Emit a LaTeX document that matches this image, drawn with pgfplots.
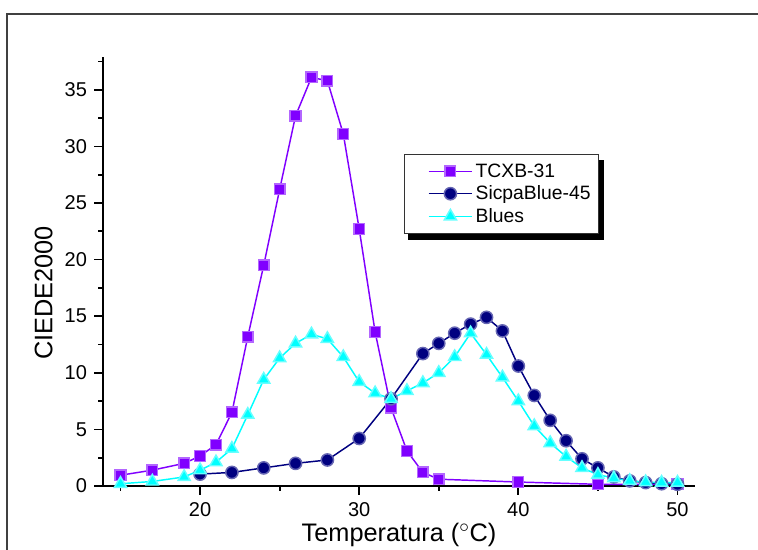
\documentclass[border=0pt]{standalone}
\usepackage{pgfplots}
\pgfplotsset{compat=1.18}
\usepackage{fontspec}
\setmainfont{Liberation Sans}
\definecolor{cpurple}{HTML}{8000FF}
\definecolor{cnavy}{HTML}{000080}
\definecolor{ccyan}{HTML}{00FFFF}
\pgfplotstableread{
x y
15 0.95
17 1.4
19 2.0
20 2.65
21 3.65
22 6.5
23 13.2
24 19.5
25 26.2
26 32.7
27 36.1
28 35.8
29 31.1
30 22.7
31 13.6
32 6.9
33 3.1
34 1.2
35 0.6
40 0.35
45 0.15
50 0.15
}\tcxb
\pgfplotstableread{
x y
20 1.05
22 1.2
24 1.6
26 2.0
28 2.3
30 4.2
32 7.7
34 11.7
35 12.6
36 13.5
37 14.3
38 14.9
39 13.7
40 10.6
41 8.0
42 5.8
43 4.0
44 2.4
45 1.6
46 0.8
47 0.45
48 0.3
49 0.2
50 0.15
}\sicpa
\pgfplotstableread{
x y
15 0.2
17 0.4
19 0.8
20 1.4
21 2.1
22 3.3
23 6.3
24 9.4
25 11.3
26 12.6
27 13.4
28 13.0
29 11.4
30 9.2
31 8.2
32 7.7
33 8.4
34 9.1
35 10.0
36 11.4
37 13.5
38 11.6
39 9.6
40 7.5
41 5.3
42 3.8
43 2.6
44 1.6
45 1.0
46 0.7
47 0.45
48 0.35
49 0.3
50 0.3
}\blues
\begin{document}
\begin{tikzpicture}
\useasboundingbox (0,0) rectangle (568.5pt,412.5pt);
\draw[line width=1.4pt, black!75] (5.25pt,-2pt) -- (5.25pt,402pt) -- (572pt,402pt);
\begin{axis}[
  at={(77.25pt,48pt)}, anchor=south west,
  scale only axis, width=444pt, height=321.75pt,
  xmin=13.9, xmax=51.1, ymin=0, ymax=37.9,
  axis x line*=bottom, axis y line*=left,
  axis line style={-, line width=1.5pt},
  every tick/.style={line width=1.3pt, black},
  tick align=outside,
  major tick length=6.5pt, minor tick length=3.5pt,
  xtick={20,30,40,50}, minor xtick={15,25,35,45},
  ytick={0,5,...,35}, minor ytick={2.5,7.5,...,37.5},
  /pgf/number format/assume math mode=true,
  ticklabel style={font=\fontsize{15}{18}\selectfont},
  xticklabel style={yshift=-2pt},
  yticklabel style={xshift=-2pt},
  xlabel={Temperatura ($^{\circ}$C)},
  ylabel={CIEDE2000},
  label style={font=\fontsize{19}{23}\selectfont},
  xlabel style={at={(axis description cs:0.5,-0.075)}, anchor=north},
  ylabel style={at={(axis description cs:-0.077,0.45)}, anchor=south},
  clip=false,
  legend style={name=leg, at={(axis cs:32.8,29.3)}, anchor=north west,
    draw=black!80, line width=0.8pt, fill=white,
    font=\fontsize{14.5}{17}\selectfont,
    row sep=1pt, inner xsep=4pt, inner ysep=4.5pt},
  legend cell align=left,
  legend image code/.code={%
    \path[draw=none, fill=none] (-0.5cm,0cm) -- (0cm,0cm);
    \draw[#1, mark=none] (0cm,0cm) -- (1.15cm,0cm);
    \draw[#1] plot coordinates {(0.575cm,0cm)};},
]
\addplot[cpurple, line width=1.1pt, mark=square*, mark size=4pt, mark options={solid, fill=cpurple, draw=cpurple!60}] table[x=x,y=y] {\tcxb};
\addlegendentry{TCXB-31}
\addplot[cnavy, line width=1.1pt, mark=*, mark size=4.6pt, mark options={solid, fill=cnavy, draw=cnavy!60}] table[x=x,y=y] {\sicpa};
\addlegendentry{SicpaBlue-45}
\addplot[ccyan, line width=1.1pt, mark=triangle*, mark size=5.3pt, mark options={solid, fill=ccyan, draw=ccyan!60}] table[x=x,y=y] {\blues};
\addlegendentry{Blues}
\end{axis}
\fill[black] ([xshift=3.5pt]leg.south west) rectangle ([xshift=3.5pt,yshift=-4.5pt]leg.south east);
\fill[black] ([yshift=-4.5pt]leg.north east) rectangle ([xshift=3.5pt,yshift=-4.5pt]leg.south east);
\end{tikzpicture}
\end{document}
